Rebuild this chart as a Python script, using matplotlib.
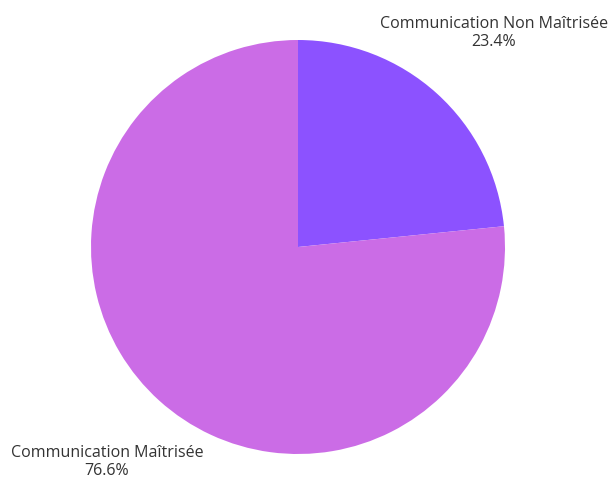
import matplotlib
matplotlib.use("Agg")
import matplotlib.pyplot as plt

categories = ["Communication Non Maîtrisée", "Communication Maîtrisée"]
shares = [23.4, 76.6]
colors = ["#8C52FF", "#CB6CE6"]

fig = plt.figure(figsize=(6.11, 4.8), dpi=100)
ax = fig.add_axes([0, 0, 1, 1])

ax.pie(shares, colors=colors, startangle=90, counterclock=False,
       center=(298, 233), radius=207, frame=True,
       wedgeprops=dict(linewidth=0))
ax.set_xlim(0, 611)
ax.set_ylim(0, 480)
ax.set_aspect("equal")
ax.axis("off")

label_pos = [(494, 447), (107, 18)]
for name, val, (x, y) in zip(categories, shares, label_pos):
    ax.text(x, y, f"{name}\n{val:.1f}%", ha="center", va="center",
            fontsize=11.5, family="Open Sans", color="#333333", linespacing=1.2)

fig.savefig("out.png", dpi=100)
